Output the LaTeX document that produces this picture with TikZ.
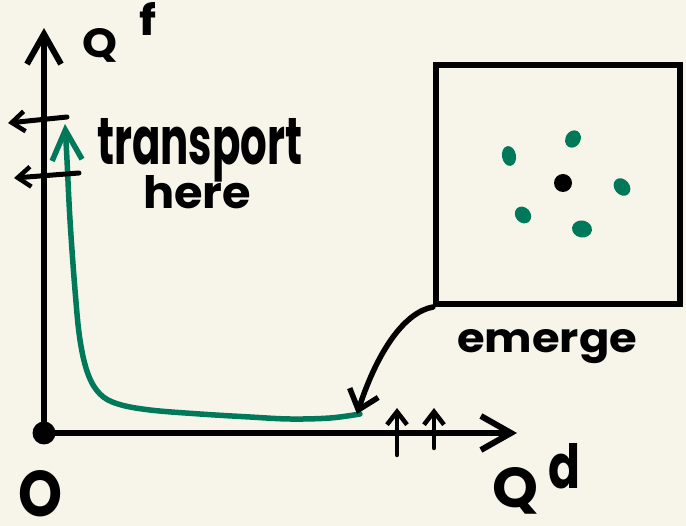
\documentclass[tikz,border=0pt]{standalone}
\usepackage{fontspec}
\setmainfont{Poppins}
\usetikzlibrary{arrows.meta}
\definecolor{bg}{HTML}{F7F5EA}
\definecolor{grn}{HTML}{00785A}
\tikzset{
  ink/.style={line width=6pt, line cap=round, line join=round},
  bigtip/.style={-{Straight Barb[length=30pt,width=34pt,line width=6pt]}},
  smalltip/.style={-{Straight Barb[length=13pt,width=20pt,line width=4.5pt]}},
  hand/.style={inner sep=0pt, font=\bfseries},
  gdot/.style={fill=grn, draw=none},
}
\begin{document}
\begin{tikzpicture}[x=1pt,y=-1pt]
\fill[bg] (0,0) rectangle (686,526);
\useasboundingbox (0,0) rectangle (686,526);

% axes
\coordinate (O) at (44,433);
\coordinate (ytop) at (44,28);
\coordinate (xend) at (517,433);
\draw[ink, bigtip] (O) -- (ytop);
\draw[ink, bigtip] (O) -- (xend);
\fill (O) circle (11.5pt);

% green curve
\draw[grn, line width=5.5pt, line cap=round, line join=round,
      -{Straight Barb[length=30pt,width=30pt,line width=5.5pt]}]
  plot[smooth, tension=0.6] coordinates {(360,414) (330,418) (290,419) (250,417) (200,414) (150,410) (118,404) (100,394) (88,374) (80,340) (75,290) (70,220) (67,160) (65,124)};

% left arrows on y axis
\coordinate (la1s) at (67,117);
\coordinate (la1e) at (8,123);
\coordinate (la2s) at (79,173);
\coordinate (la2e) at (14,178);
\draw[ink, line width=5pt, smalltip] (la1s) -- (la1e);
\draw[ink, line width=5pt, smalltip] (la2s) -- (la2e);

% up arrows on x axis
\coordinate (ua1s) at (397,455);
\coordinate (ua1e) at (397,408);
\coordinate (ua2s) at (434,448);
\coordinate (ua2e) at (434,408);
\draw[ink, line width=4.5pt, smalltip] (ua1s) -- (ua1e);
\draw[ink, line width=4.5pt, smalltip] (ua2s) -- (ua2e);

% box
\node[draw, line width=6pt, minimum width=244pt, minimum height=239pt, inner sep=0pt] (box) at (558,184.5) {};
\fill (563,183) circle (9pt);
\fill[gdot, rotate around={10:(509,156)}] (509,156) ellipse (7pt and 10pt);
\fill[gdot, rotate around={-30:(573,139)}] (573,139) ellipse (7.5pt and 9pt);
\fill[gdot, rotate around={40:(622,187)}] (622,187) ellipse (7.5pt and 9.5pt);
\fill[gdot, rotate around={40:(523,215)}] (523,215) ellipse (7.5pt and 9pt);
\fill[gdot, rotate around={80:(582,229)}] (582,229) ellipse (8.5pt and 10pt);

% emerge arrow
\coordinate (etip) at (357,414);
\draw[ink, line width=5.5pt, -{Straight Barb[length=18pt,width=30pt,line width=5.5pt]}]
  (box.south west) .. controls (405,312) and (378,350) .. (etip);

% texts
\node[hand, anchor=base west] (qs) at (82,58) {\resizebox{35pt}{29pt}{Q}\kern22pt\raisebox{22pt}{\resizebox{17pt}{33pt}{f}}};
\node[hand, anchor=base west] (qd) at (492,508) {\resizebox{46pt}{40pt}{Q}\kern10pt\raisebox{20pt}{\resizebox{32pt}{45pt}{d}}};
\node[hand, anchor=base west] (orig) at (18,516) {\resizebox{44pt}{46pt}{O}};
\node[hand, anchor=base west] (tr) at (97,165) {\resizebox{205pt}{46pt}{transport}};
\node[hand, anchor=base west] (he) at (143,209) {\resizebox{108pt}{33pt}{here}};
\node[hand, anchor=base west] (em) at (457,353) {\resizebox{180pt}{23pt}{emerge}};
\end{tikzpicture}
\end{document}
